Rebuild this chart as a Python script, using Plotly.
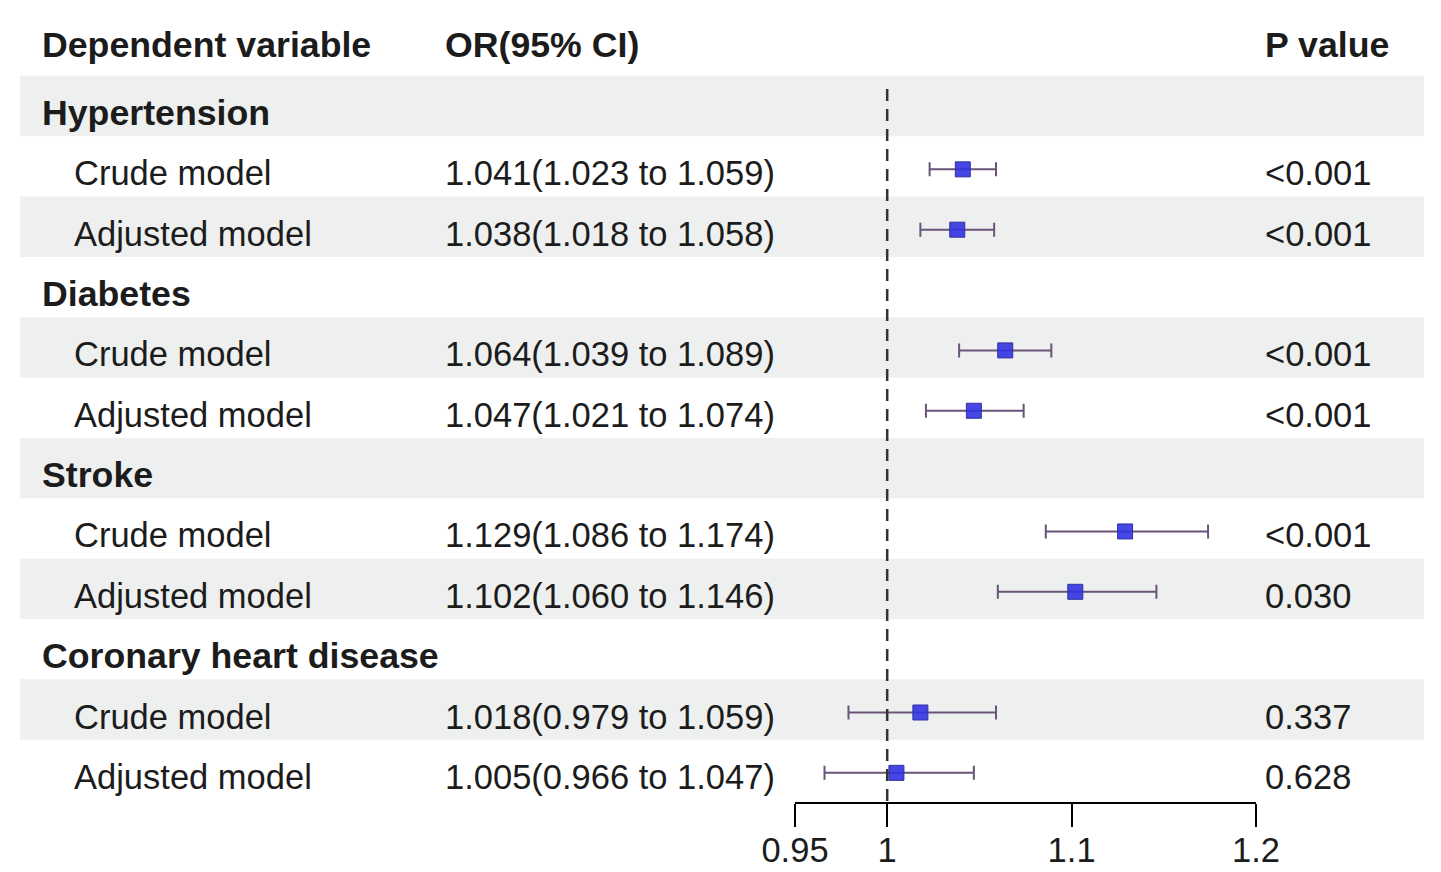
import plotly.graph_objects as go

# rows of the forest plot, top to bottom
labels = ["Hypertension", "Crude model", "Adjusted model",
          "Diabetes", "Crude model", "Adjusted model",
          "Stroke", "Crude model", "Adjusted model",
          "Coronary heart disease", "Crude model", "Adjusted model"]
is_group = [True, False, False, True, False, False,
            True, False, False, True, False, False]
or_vals = [None, 1.041, 1.038, None, 1.064, 1.047, None, 1.129, 1.102, None, 1.018, 1.005]
ci_low = [None, 1.023, 1.018, None, 1.039, 1.021, None, 1.086, 1.060, None, 0.979, 0.966]
ci_high = [None, 1.059, 1.058, None, 1.089, 1.074, None, 1.174, 1.146, None, 1.059, 1.047]
p_vals = ["", "<0.001", "<0.001", "", "<0.001", "<0.001", "", "<0.001", "0.030", "", "0.337", "0.628"]

tick_vals = [0.95, 1, 1.1, 1.2]
tick_text = ["0.95", "1", "1.1", "1.2"]

W, H = 1441, 872
DX, DY = 8, 9          # page offset of the plot div
ROW0, STEP = 110, 60.35  # pixel centre of first row and row pitch
AXIS_Y = 803
FONT = "Liberation Sans, Arial, sans-serif"
TXT = "#1c1c1c"
FS, FSB = 34.5, 35.7


def px(x):
    return (x - DX) / W


def row_of(y):
    return (y - ROW0) / STEP


rows = list(range(len(labels)))
pts = [i for i in rows if or_vals[i] is not None]

fig = go.Figure()

fig.add_trace(go.Scatter(
    x=[or_vals[i] for i in pts],
    y=pts,
    mode="markers",
    marker=dict(symbol="square", size=15, color="rgba(50,50,225,0.9)",
                line=dict(color="#3030a0", width=1)),
    error_x=dict(type="data", symmetric=False,
                 array=[ci_high[i] - or_vals[i] for i in pts],
                 arrayminus=[or_vals[i] - ci_low[i] for i in pts],
                 color="#6a5478", thickness=2, width=7),
    showlegend=False,
    hoverinfo="skip",
))

shapes = []
band_off = 3 / STEP
# alternating row bands
for i in rows:
    if i % 2 == 0:
        shapes.append(dict(type="rect", xref="paper", yref="y",
                           x0=px(20), x1=px(1424),
                           y0=i - 0.5 - band_off, y1=i + 0.5 - band_off,
                           fillcolor="#eef0ef", line_width=0, layer="below"))
# reference line at OR = 1
shapes.append(dict(type="line", xref="x", yref="y", x0=1, x1=1,
                   y0=row_of(90), y1=row_of(AXIS_Y),
                   line=dict(color="#333333", width=2.5, dash="12px,8px")))

ann = []


def txt(x_px, y, s, bold=False):
    ann.append(dict(xref="paper", yref="y", x=px(x_px), y=y,
                    text=f"<b>{s}</b>" if bold else s,
                    showarrow=False, xanchor="left", yanchor="middle", yshift=-4,
                    font=dict(family=FONT, size=FSB if bold else FS, color=TXT)))


head = row_of(42)
txt(40, head, "Dependent variable", bold=True)
txt(443, head, "OR(95% CI)", bold=True)
txt(1263, head, "P value", bold=True)

for i in rows:
    if is_group[i]:
        txt(40, i, labels[i], bold=True)
    else:
        txt(72, i, labels[i])
        txt(443, i, f"{or_vals[i]:.3f}({ci_low[i]:.3f} to {ci_high[i]:.3f})")
        txt(1263, i, p_vals[i])

fig.update_layout(
    width=W, height=H,
    margin=dict(l=0, r=0, t=0, b=0, autoexpand=False),
    paper_bgcolor="white", plot_bgcolor="rgba(0,0,0,0)",
    shapes=shapes, annotations=ann,
    xaxis=dict(domain=[px(795), px(1256)], range=[0.95, 1.2],
               tickvals=tick_vals, ticktext=tick_text,
               showgrid=False, zeroline=False,
               showline=True, linecolor="black", linewidth=2,
               ticks="outside", ticklen=23, tickwidth=2, tickcolor="black",
               ticklabelstandoff=-6,
               tickfont=dict(family=FONT, size=FS, color=TXT)),
    yaxis=dict(domain=[1 - (AXIS_Y - DY) / H, 1],
               range=[row_of(AXIS_Y), row_of(DY)],
               visible=False, showgrid=False, zeroline=False),
)

fig.write_html("out.html")
